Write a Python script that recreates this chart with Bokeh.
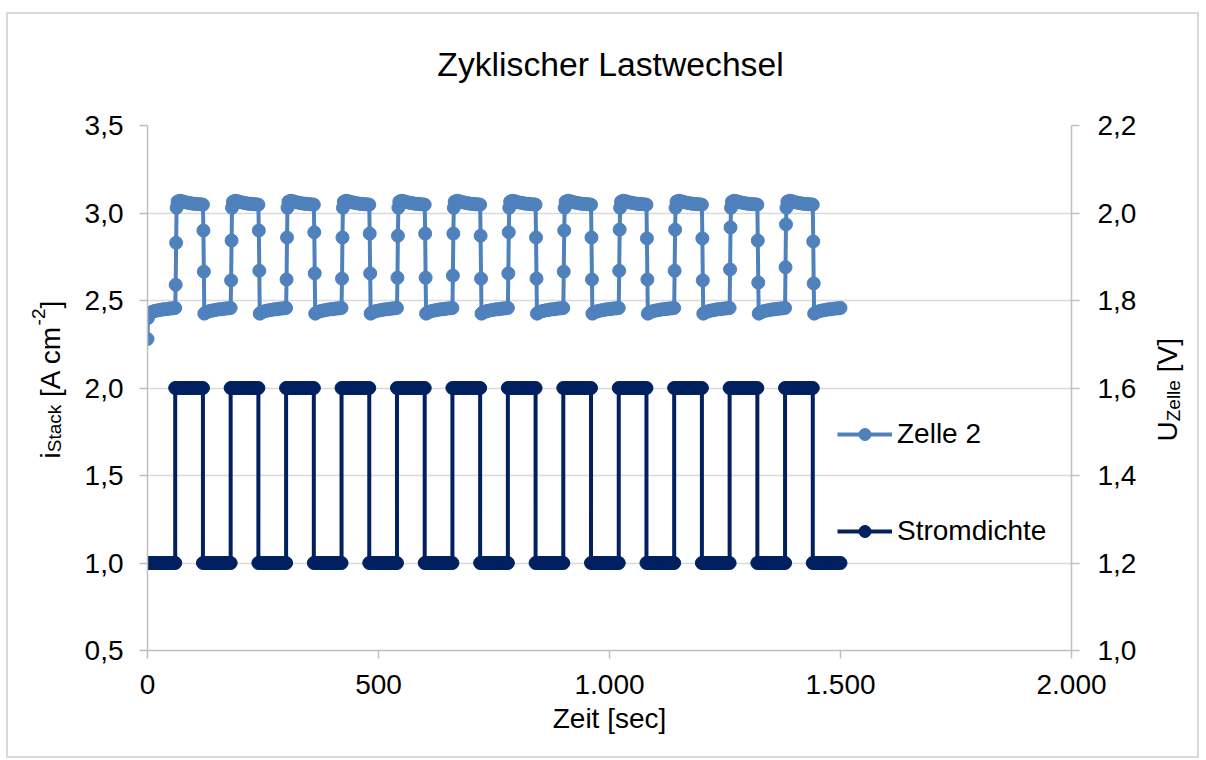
import math
from bokeh.plotting import figure
from bokeh.layouts import column, row
from bokeh.models import (Range1d, LinearAxis, FixedTicker, CustomJSTickFormatter,
                          Legend, LegendItem, ColumnDataSource)
from bokeh.core.properties import value
from bokeh.embed import file_html
from bokeh.resources import INLINE

FONT = "Liberation Sans"

# ---------------- data ----------------
title_text = "Zyklischer Lastwechsel"
x_label = "Zeit [sec]"
x_ticks = [0, 500, 1000, 1500, 2000]
left_ticks = [0.5, 1.0, 1.5, 2.0, 2.5, 3.0, 3.5]
right_ticks = [1.0, 1.2, 1.4, 1.6, 1.8, 2.0, 2.2]
series_names = ["Zelle 2", "Stromdichte"]

# Stromdichte [A cm-2]: switching instants (s) and the level held in between
i_switch_t = [0, 60, 120, 180, 240, 300, 360, 420, 480, 540, 600, 660, 720,
              780, 840, 900, 960, 1020, 1080, 1140, 1200, 1260, 1320, 1380, 1440, 1500]
i_level = [1.0, 2.0, 1.0, 2.0, 1.0, 2.0, 1.0, 2.0, 1.0, 2.0, 1.0, 2.0, 1.0,
           2.0, 1.0, 2.0, 1.0, 2.0, 1.0, 2.0, 1.0, 2.0, 1.0, 2.0, 1.0]
sample_step = 5  # logging interval (s)

# Zelle 2 voltage [V]
cycle_len = 120
n_cycles = 12
u_start_t = [0, 1]
u_start_v = [1.712, 1.760]
u_low_off = [3, 5, 10, 15, 20, 25, 30, 35, 40, 45, 50, 55, 60]
u_low_v = [1.770, 1.772, 1.774, 1.776, 1.777, 1.778, 1.779, 1.780, 1.780,
           1.781, 1.782, 1.782, 1.783]
u_rise_off = [61, 62]
u_rise_lo = [1.836, 1.846, 1.848, 1.850, 1.852, 1.857, 1.862, 1.866, 1.868, 1.868, 1.871, 1.876]
u_rise_hi = [1.932, 1.937, 1.944, 1.944, 1.948, 1.953, 1.956, 1.960, 1.962, 1.962, 1.967, 1.974]
u_high_off = [63, 65, 70, 75, 80, 85, 90, 95, 100, 105, 110, 115, 120]
u_high_v = [2.012, 2.026, 2.028, 2.027, 2.025, 2.024, 2.023, 2.022, 2.021,
            2.021, 2.020, 2.020, 2.019]
u_fall_off = [121, 122]
u_fall_hi = [1.960, 1.960, 1.956, 1.953, 1.953, 1.948, 1.944, 1.944, 1.942, 1.942, 1.937, 1.935]
u_fall_lo = [1.866, 1.868, 1.862, 1.862, 1.852, 1.850, 1.850, 1.848, 1.848, 1.846, 1.841, 1.839]

# ---------------- build series ----------------
i_t, i_v = [], []
for a, b, lvl in zip(i_switch_t[:-1], i_switch_t[1:], i_level):
    for t in range(a, b + 1, sample_step):
        i_t.append(t)
        i_v.append(lvl)

u_t, u_v = list(u_start_t), list(u_start_v)
for k in range(n_cycles + 1):
    T = cycle_len * k
    if k > 0:
        u_t += [T - cycle_len + o for o in u_fall_off]
        u_v += [u_fall_hi[k - 1], u_fall_lo[k - 1]]
    u_t += [T + o for o in u_low_off]
    u_v += list(u_low_v)
    if k < n_cycles:
        u_t += [T + o for o in u_rise_off]
        u_v += [u_rise_lo[k], u_rise_hi[k]]
        u_t += [T + o for o in u_high_off]
        u_v += list(u_high_v)

src_i = ColumnDataSource(dict(t=i_t, v=i_v))
src_u = ColumnDataSource(dict(t=u_t, v=u_v))

# ---------------- page geometry (px) ----------------
OX, OY = 8, 14
TOTAL_W = 1189
TOP_H = 80
ROW_H = 662
LEFT_W = 72
MAIN_X0 = OX + LEFT_W
MAIN_W = 1141 - MAIN_X0
RIGHT_W = TOTAL_W - LEFT_W - MAIN_W
ROW_TOP = OY + TOP_H
ROW_BOT = ROW_TOP + ROW_H
FRAME_L, FRAME_R, FRAME_T, FRAME_B = 147, 1071, 125, 650

# ---------------- main chart ----------------
p = figure(width=MAIN_W, height=ROW_H, output_backend="svg", toolbar_location=None,
           x_range=Range1d(0, 2000), y_range=Range1d(0.5, 3.5))
p.min_border_left = FRAME_L - MAIN_X0
p.min_border_right = MAIN_X0 + MAIN_W - FRAME_R
p.min_border_top = FRAME_T - ROW_TOP
p.min_border_bottom = ROW_BOT - FRAME_B
p.outline_line_color = None
p.background_fill_color = "white"
p.border_fill_color = "white"
p.extra_y_ranges = {"v": Range1d(1.0, 2.2)}

AX = "#bfbfbf"
GRID = "#d9d9d9"
xfmt = CustomJSTickFormatter(code=r"""
const s = Math.round(tick).toString();
return s.replace(/\B(?=(\d{3})+(?!\d))/g, '.');
""")
yfmt = CustomJSTickFormatter(code="return tick.toFixed(1).replace('.', ',');")

def style_axis(ax, standoff):
    ax.axis_line_color = AX
    ax.axis_line_width = 1.5
    ax.major_tick_line_color = AX
    ax.major_tick_line_width = 1.5
    ax.major_tick_out = 8
    ax.major_tick_in = 0
    ax.minor_tick_line_color = None
    ax.major_label_text_font = FONT
    ax.major_label_text_font_size = "28px"
    ax.major_label_text_color = "black"
    ax.major_label_standoff = standoff

xa = p.xaxis[0]
xa.ticker = FixedTicker(ticks=x_ticks)
xa.formatter = xfmt
style_axis(xa, 16)
xa.axis_label = x_label
xa.axis_label_text_font = FONT
xa.axis_label_text_font_size = "28px"
xa.axis_label_text_font_style = "normal"
xa.axis_label_text_color = "black"
xa.axis_label_standoff = 6

ya = p.yaxis[0]
ya.ticker = FixedTicker(ticks=left_ticks)
ya.formatter = yfmt
style_axis(ya, 16)

ra = LinearAxis(y_range_name="v", ticker=FixedTicker(ticks=right_ticks), formatter=yfmt)
style_axis(ra, 18)
p.add_layout(ra, "right")

p.xgrid.grid_line_color = None
p.ygrid.ticker = FixedTicker(ticks=left_ticks)
p.ygrid.grid_line_color = GRID
p.ygrid.grid_line_width = 1.5

C_U = "#4f81bd"
C_I = "#002060"
ln_u = p.line("t", "v", source=src_u, y_range_name="v", line_color=C_U, line_width=4)
sc_u = p.scatter("t", "v", source=src_u, y_range_name="v", size=13,
                 fill_color=C_U, line_color=C_U)
ln_i = p.line("t", "v", source=src_i, line_color=C_I, line_width=4)
sc_i = p.scatter("t", "v", source=src_i, size=13, fill_color=C_I, line_color=C_I)

legend = Legend(items=[LegendItem(label=series_names[0], renderers=[ln_u, sc_u]),
                       LegendItem(label=series_names[1], renderers=[ln_i, sc_i])],
                location=(690, 103))
legend.label_text_font = FONT
legend.label_text_font_size = "28px"
legend.label_text_color = "black"
legend.background_fill_alpha = 0
legend.border_line_color = None
legend.glyph_width = 55
legend.glyph_height = 30
legend.label_height = 30
legend.spacing = 65
legend.padding = 0
legend.margin = 0
legend.label_standoff = 5
p.add_layout(legend)

# ---------------- text panels (title, rotated axis titles) ----------------
def text_panel(w, h, top_border=0, bottom_border=0):
    f = figure(width=w, height=h, output_backend="svg", toolbar_location=None,
               x_range=Range1d(0, w), y_range=Range1d(0, h - top_border - bottom_border),
               x_axis_type=None, y_axis_type=None, min_border=0)
    f.min_border_top = top_border
    f.min_border_bottom = bottom_border
    f.outline_line_color = None
    f.background_fill_color = "white"
    f.border_fill_color = "white"
    return f

ADV = {"i": .222, "S": .667, "t": .278, "a": .556, "c": .5, "k": .5, " ": .278,
       "[": .278, "]": .278, "A": .667, "m": .833, "-": .333, "2": .556, "U": .722,
       "Z": .611, "e": .556, "l": .222, "V": .667}

def text_w(s, size):
    return sum(ADV.get(ch, .556) for ch in s) * size

def rotated_label(f, x0_page, pieces, page_x_base, page_y_start):
    y = page_y_start
    for txt, size, dx in pieces:
        y -= text_w(txt[:len(txt) - len(txt.lstrip())], size)   # leading blank
        f.text(x=[page_x_base + dx - x0_page], y=[FRAME_B - y], text=[txt.strip()],
               angle=math.pi / 2, text_align="left", text_baseline="alphabetic",
               text_font=value(FONT), text_font_size=value(f"{size}px"), text_color="black")
        y -= text_w(txt.strip(), size)

top = text_panel(TOTAL_W, TOP_H)
top.text(x=[610 - OX], y=[ROW_TOP - 63], text=[title_text], text_align="center",
         text_baseline="alphabetic", text_font=value(FONT), text_font_size=value("33.7px"),
         text_color="black")

left = text_panel(LEFT_W, ROW_H, FRAME_T - ROW_TOP, ROW_BOT - FRAME_B)
rotated_label(left, OX,
              [("i", 28, 0), ("Stack", 19, 4), (" [A cm", 28, 0), ("-2", 19, -12), ("]", 28, 0)],
              50, 458)

right = text_panel(RIGHT_W, ROW_H, FRAME_T - ROW_TOP, ROW_BOT - FRAME_B)
rotated_label(right, MAIN_X0 + MAIN_W,
              [("U", 28, 0), ("Zelle", 19, 6), (" [V]", 28, 0)], 1167, 441)

layout = column(top, row(left, p, right, spacing=0), spacing=0)
layout.styles = {"border": "2px solid #d9d9d9", "margin": "12px 0 0 6px"}

open("out.html", "w").write(file_html(layout, INLINE))
